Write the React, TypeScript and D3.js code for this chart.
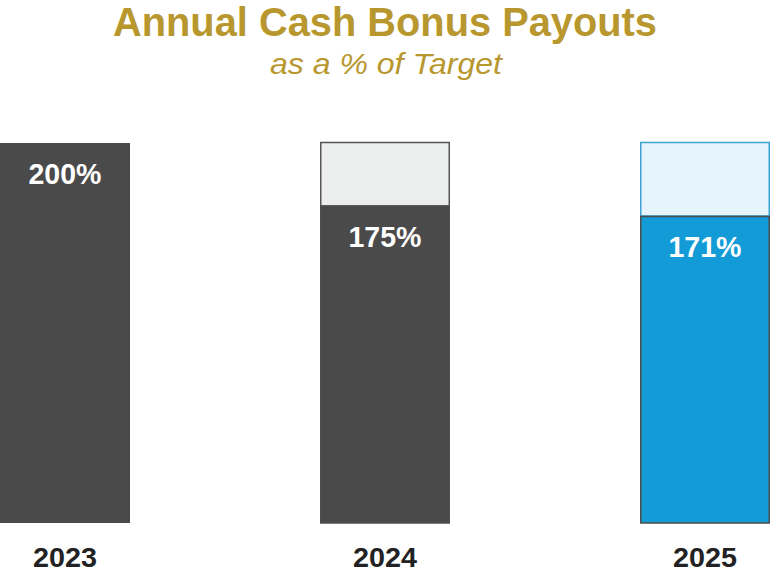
import React, { useEffect } from "react";
import * as d3 from "d3";

const years = ["2023", "2024", "2025"];
const payouts = [200, 175, 171];
const maxPayout = [200, 200, 200];
const labels = ["200%", "175%", "171%"];
const showCap = [false, true, true];

const W = 770;
const H = 573;
const GOLD = "#b8972f";
const FONT = "'Liberation Sans Narrow', 'Arial Narrow', 'Liberation Sans', Arial, sans-serif";

const barFill = ["#4a4a4a", "#4a4a4a", "#129bd6"];
const capFill = ["#eceeed", "#eceeed", "#e6f4fc"];
const capStroke = ["#555555", "#555555", "#3ea3d3"];

export default function App() {
  useEffect(() => {
    document.body.style.margin = "0";
  }, []);

  const x = d3
    .scaleBand<string>()
    .domain(years)
    .range([-95, 865])
    .paddingInner(0.59375)
    .paddingOuter(0.296875);

  const y = d3.scaleLinear().domain([50, 200]).range([523, 143]);

  return (
    <svg width={W} height={H} style={{ display: "block", background: "#fff" }}>
      <text
        x={385}
        y={36}
        textAnchor="middle"
        fontFamily={FONT}
        fontWeight="bold"
        fontSize={41}
        fill={GOLD}
        textLength={544}
        lengthAdjust="spacingAndGlyphs"
      >
        Annual Cash Bonus Payouts
      </text>
      <text
        x={386}
        y={74}
        textAnchor="middle"
        fontFamily={FONT}
        fontStyle="italic"
        fontSize={30}
        fill={GOLD}
        textLength={232}
        lengthAdjust="spacingAndGlyphs"
      >
        as a % of Target
      </text>

      {years.map((yr, i) => {
        const x0 = x(yr)!;
        const bw = x.bandwidth();
        const top = y(payouts[i]);
        const capTop = y(maxPayout[i]);
        return (
          <g key={yr}>
            {showCap[i] && (
              <rect
                x={x0 + 0.75}
                y={capTop - 0.5}
                width={bw - 1.5}
                height={top - capTop}
                fill={capFill[i]}
                stroke={capStroke[i]}
                strokeWidth={1.5}
              />
            )}
            <rect
              x={x0 + (showCap[i] ? 0.75 : 0)}
              y={top}
              width={bw - (showCap[i] ? 1.5 : 0)}
              height={y(50) - top}
              fill={barFill[i]}
              stroke={showCap[i] ? "#4d4d4d" : "none"}
              strokeWidth={1.5}
            />
            <text
              x={x0 + bw / 2}
              y={top + 41}
              textAnchor="middle"
              fontFamily={FONT}
              fontWeight="bold"
              fontSize={30}
              fill="#ffffff"
              textLength={73}
              lengthAdjust="spacingAndGlyphs"
            >
              {labels[i]}
            </text>
            <text
              x={x0 + bw / 2}
              y={567}
              textAnchor="middle"
              fontFamily={FONT}
              fontWeight="bold"
              fontSize={28}
              fill="#222222"
              textLength={64}
              lengthAdjust="spacingAndGlyphs"
            >
              {yr}
            </text>
          </g>
        );
      })}
    </svg>
  );
}
